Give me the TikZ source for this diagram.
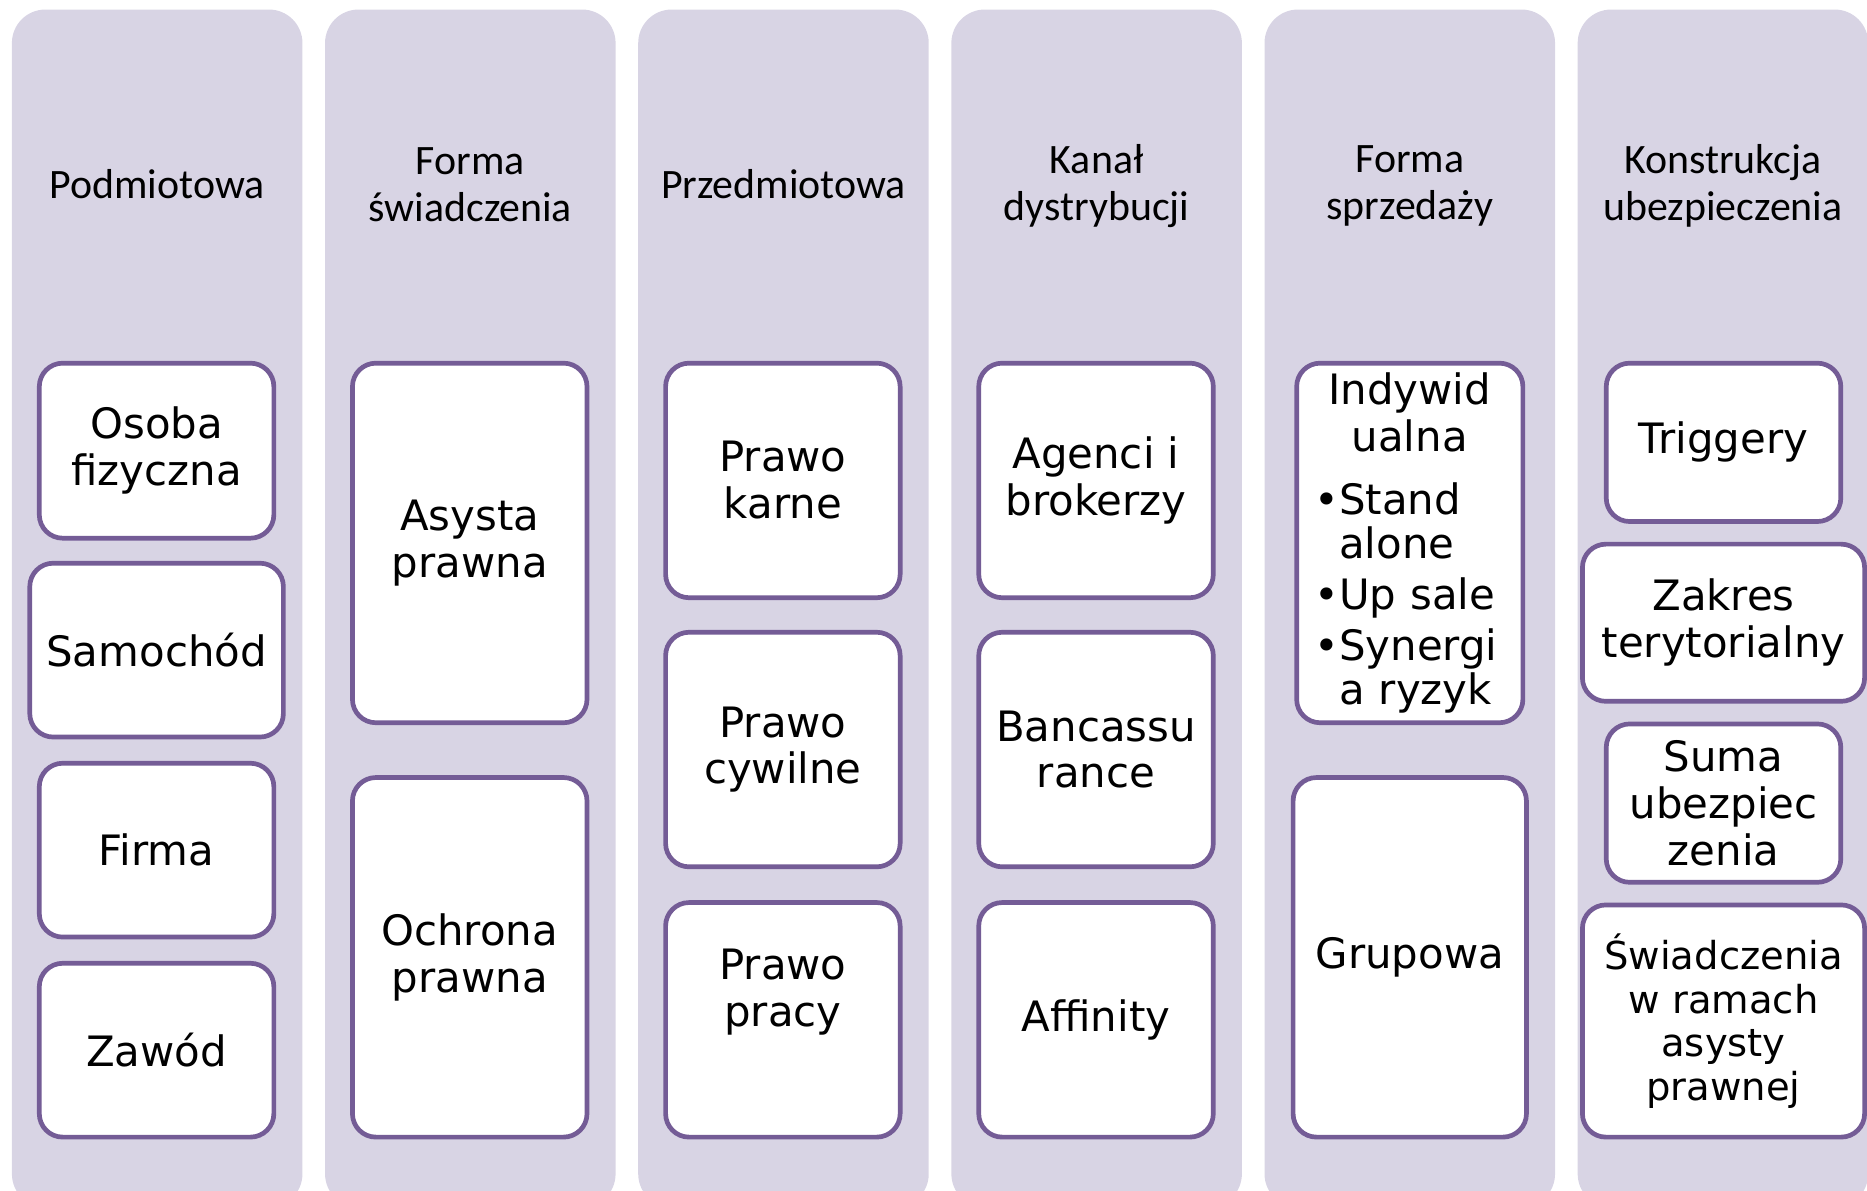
\documentclass[tikz,border=0pt]{standalone}
\usepackage{fontspec}
\setmainfont{DejaVu Sans}
\newfontfamily\headfont{Carlito}
\definecolor{colfill}{RGB}{216,212,228}
\definecolor{tileline}{RGB}{116,92,150}

\begin{document}
\begin{tikzpicture}[x=0.025cm,y=-0.025cm,
    head/.style={align=center,font=\headfont\fontsize{25}{28}\selectfont},
    tile/.style 2 args={draw=tileline,line width=2.8pt,fill=white,%
      rounded corners=14pt,minimum width=#1*0.025cm,%
      minimum height=#2*0.025cm,inner sep=0pt,align=center,%
      font=\fontsize{25}{28}\selectfont}]
          \useasboundingbox (0,0) rectangle (1568,1000);
          \clip (0,0) rectangle (1568,1000);
          % columns
          \foreach \i in {0,...,5}
            \fill[colfill,rounded corners=20pt] (10+263*\i,8) rectangle (254+263*\i,1014);
          % headings
          \node[head] (podm) at (132,155) {Podmiotowa};
          \node[head] (forma) at (395,155) {Forma\\świadczenia};
          \node[head] (przedm) at (658,155) {Przedmiotowa};
          \node[head] (kanal) at (921,156) {Kanał\\dystrybucji};
          \node[head] (sprzed) at (1184,156) {Forma\\sprzedaży};
          \node[head] (konstr) at (1447,156) {Konstrukcja\\ubezpieczenia};
          % Podmiotowa
          \node[tile={197}{147}] (osoba) at (131.5,378.5) {Osoba\\fizyczna};
          \node[tile={213}{146}] (samochod) at (131.5,546) {Samochód};
          \node[tile={197}{146}] (firma) at (131.5,714) {Firma};
          \node[tile={197}{146}] (zawod) at (131.5,882) {Zawód};
          % Forma swiadczenia
          \node[tile={197}{302}] (asysta) at (394.5,456) {Asysta\\prawna};
          \node[tile={197}{302}] (ochrona) at (394.5,804) {Ochrona\\prawna};
          % Przedmiotowa
          \node[tile={197}{197}] (karne) at (657.5,403.5) {Prawo\\karne};
          \node[tile={197}{197}] (cywilne) at (657.5,629.5) {Prawo\\cywilne};
          \node[tile={197}{197}] (pracy) at (657.5,856.5) {Prawo\\pracy\\[10pt]\mbox{}};
          % Kanal dystrybucji
          \node[tile={197}{197}] (agenci) at (920.5,403.5) {Agenci i\\brokerzy};
          \node[tile={197}{197}] (bancas) at (920.5,629.5) {Bancassu\\rance};
          \node[tile={197}{197}] (affin) at (920.5,856.5) {Affinity};
          % Forma sprzedazy
          \node[tile={190}{302},align=left,text width=160*0.025cm,%
            font=\fontsize{25}{26.3}\selectfont] (indyw) at (1184,456)
            {{\fontsize{25}{28}\selectfont\centering Indywid\\ualna\par}\vspace{11.5pt}%
             •Stand\\\hphantom{•}alone\par\vspace{4.3pt}%
             •Up sale\par\vspace{4.3pt}%
             •Synergi\\\hphantom{•}a ryzyk};
          \node[tile={196}{302}] (grupowa) at (1184,804) {Grupowa};
          % Konstrukcja ubezpieczenia
          \node[tile={197}{133}] (trigg) at (1447.5,371.5) {Triggery};
          \node[tile={237}{132}] (zakres) at (1447.5,523) {Zakres\\terytorialny};
          \node[tile={197}{133}] (suma) at (1447.5,674.5) {Suma\\ubezpiec\\zenia};
          \node[tile={237}{195},font=\fontsize{23}{26}\selectfont] (swiad) %
            at (1447.5,857.5) {Świadczenia\\w ramach\\asysty\\prawnej};
        \end{tikzpicture}
\end{document}
